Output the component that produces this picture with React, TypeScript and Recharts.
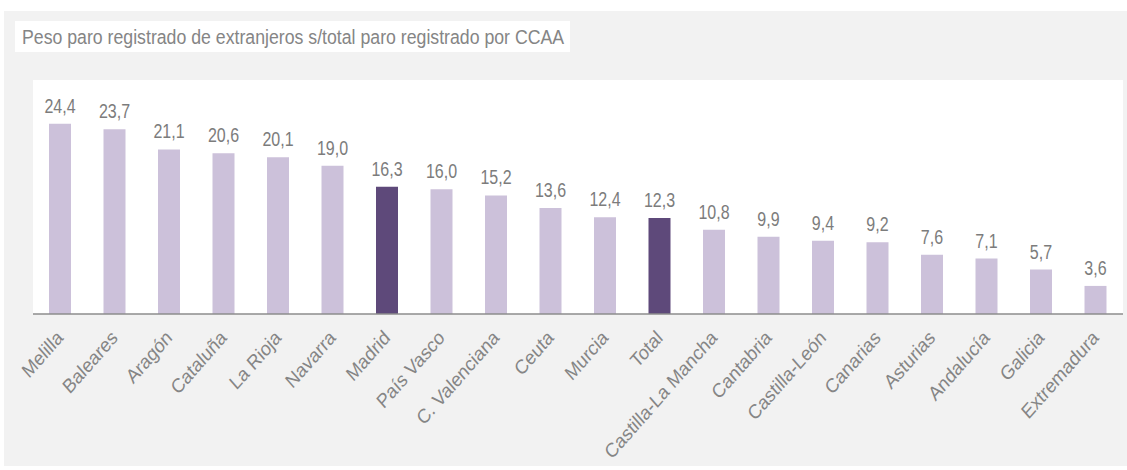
import React from 'react';
import { BarChart, Bar, XAxis, YAxis, Cell, LabelList } from 'recharts';

const categories: string[] = [
  'Melilla', 'Baleares', 'Aragón', 'Cataluña', 'La Rioja', 'Navarra', 'Madrid',
  'País Vasco', 'C. Valenciana', 'Ceuta', 'Murcia', 'Total', 'Castilla-La Mancha',
  'Cantabria', 'Castilla-León', 'Canarias', 'Asturias', 'Andalucía', 'Galicia', 'Extremadura',
];
const values: number[] = [
  24.4, 23.7, 21.1, 20.6, 20.1, 19.0, 16.3, 16.0, 15.2, 13.6,
  12.4, 12.3, 10.8, 9.9, 9.4, 9.2, 7.6, 7.1, 5.7, 3.6,
];
const highlighted: string[] = ['Madrid', 'Total'];
const title = 'Peso paro registrado de extranjeros s/total paro registrado por CCAA';

const data = categories.map((name, i) => ({ name, value: values[i] }));

const FONT = '"Liberation Sans", Arial, sans-serif';
const LIGHT = '#CCC1DA';
const DARK = '#5E497A';

const Tick = (props: any) => {
  const { x, y, payload } = props;
  const ax = x + 4;
  const ay = y + 25;
  return (
    <text
      x={0}
      y={0}
      transform={`translate(${ax},${ay}) scale(0.88,1) rotate(-45)`}
      textAnchor="end"
      fontFamily={FONT}
      fontSize={20}
      fill="#858585"
    >
      {payload.value}
    </text>
  );
};

const ValueLabel = (props: any) => {
  const { x, y, width, value } = props;
  const cx = Number(x) + Number(width) / 2;
  const cy = Number(y) - 11;
  return (
    <text
      x={0}
      y={0}
      transform={`translate(${cx},${cy}) scale(0.8,1)`}
      textAnchor="middle"
      fontFamily={FONT}
      fontSize={20}
      fill="#7c7c7c"
    >
      {Number(value).toFixed(1).replace('.', ',')}
    </text>
  );
};

export default function App() {
  return (
    <div style={{ position: 'absolute', left: 0, top: 0, width: 1127, height: 470, background: '#ffffff', overflow: 'hidden' }}>
      <div style={{ position: 'absolute', left: 4, top: 11, width: 1123, height: 455, background: '#f2f2f2' }} />
      <div style={{ position: 'absolute', left: 33, top: 80, width: 1090, height: 234, background: '#ffffff' }} />
      <div
        style={{
          position: 'absolute', left: 15, top: 21, width: 555, height: 31,
          background: '#ffffff', overflow: 'hidden',
        }}
      >
        <div
          style={{
            position: 'absolute', left: 7, top: 0, whiteSpace: 'nowrap',
            fontFamily: FONT, fontSize: 20, lineHeight: '32px', color: '#858585',
            transform: 'scaleX(0.885)', transformOrigin: 'left top',
          }}
        >
          {title}
        </div>
      </div>
      <div style={{ position: 'absolute', left: 0, top: 0 }}>
        <BarChart
          width={1127}
          height={470}
          data={data}
          margin={{ top: 80, right: 4, left: 33, bottom: 6 }}
        >
          <YAxis hide domain={[0, 30]} />
          <XAxis
            dataKey="name"
            interval={0}
            height={150}
            tickLine={false}
            tickSize={0}
            tickMargin={0}
            axisLine={{ stroke: '#8c8c8c', strokeWidth: 1.5 }}
            tick={<Tick />}
          />
          <Bar dataKey="value" barSize={22} isAnimationActive={false}>
            {data.map((d) => (
              <Cell key={d.name} fill={highlighted.includes(d.name) ? DARK : LIGHT} />
            ))}
            <LabelList dataKey="value" content={<ValueLabel />} />
          </Bar>
        </BarChart>
      </div>
    </div>
  );
}
